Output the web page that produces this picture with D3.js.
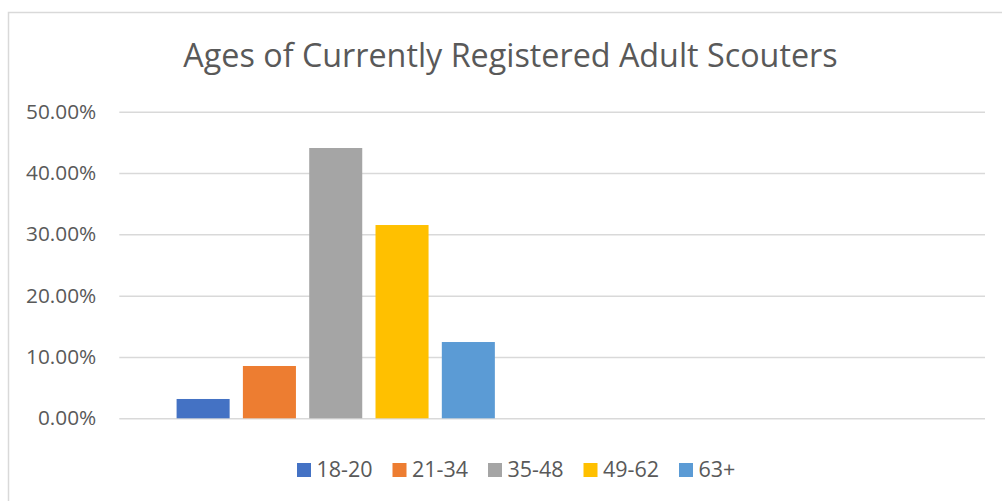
<!DOCTYPE html>
<html>
<head>
<meta charset="utf-8">
<script src="https://cdn.jsdelivr.net/npm/d3@7"></script>
<style>
  body { margin: 0; background: #fff; }
  svg { display: block; font-family: "Open Sans", "Noto Sans", sans-serif; }
</style>
</head>
<body>
<svg id="chart"></svg>
<script>
const title = "Ages of Currently Registered Adult Scouters";
// one real category plus an empty slot, as in the source workbook
const categories = ["Adult Scouters", ""];
const series = ["18-20", "21-34", "35-48", "49-62", "63+"];
const values = [0.0315, 0.0853, 0.4408, 0.3152, 0.1244];
const colors = ["#4472c4", "#ed7d31", "#a5a5a5", "#ffc000", "#5b9bd5"];
const yTicks = [0, 0.1, 0.2, 0.3, 0.4, 0.5];

const width = 1002, height = 501;
const margin = { top: 111.7, right: 17, bottom: 82.7, left: 119.3 };

const svg = d3.select("#chart").attr("width", width).attr("height", height);

// chart frame
svg.append("rect")
  .attr("x", 8.5).attr("y", 12.5)
  .attr("width", width + 20).attr("height", height + 20)
  .attr("fill", "#fff").attr("stroke", "#d9d9d9").attr("stroke-width", 1.5);

svg.append("text")
  .attr("x", 510.5).attr("y", 67)
  .attr("text-anchor", "middle")
  .attr("fill", "#595959")
  .attr("font-size", 32.3)
  .text(title);

const x = d3.scaleBand()
  .domain(categories)
  .range([margin.left, width - margin.right])
  .padding(0);

const xs = d3.scaleBand()
  .domain(series)
  .range([0, x.bandwidth()])
  .paddingInner(0.2)
  .paddingOuter(0.864);

const y = d3.scaleLinear()
  .domain([0, 0.5])
  .range([height - margin.bottom, margin.top]);

const yAxis = d3.axisLeft(y)
  .tickValues(yTicks)
  .tickFormat(d3.format(".2%"))
  .tickSize(-(width - margin.left - margin.right))
  .tickPadding(23);

const gy = svg.append("g")
  .attr("transform", `translate(${margin.left},0)`)
  .call(yAxis);
gy.select(".domain").remove();
gy.selectAll(".tick line").attr("stroke", "#d9d9d9").attr("stroke-width", 1.5);
gy.selectAll(".tick text")
  .attr("fill", "#595959")
  .attr("font-size", 20.8)
  .attr("font-family", "\"Open Sans\", sans-serif");

svg.append("g")
  .selectAll("rect")
  .data(series)
  .join("rect")
  .attr("x", s => x(categories[0]) + xs(s))
  .attr("width", xs.bandwidth())
  .attr("y", (s, i) => y(values[i]))
  .attr("height", (s, i) => y(0) - y(values[i]))
  .attr("fill", (s, i) => colors[i]);

// legend
const legend = svg.append("g").attr("transform", "translate(297,463)");
const item = legend.selectAll("g")
  .data(series)
  .join("g")
  .attr("transform", (s, i) => `translate(${i * 95.5},0)`);
item.append("rect")
  .attr("width", 14).attr("height", 14)
  .attr("fill", (s, i) => colors[i]);
item.append("text")
  .attr("x", 19.5).attr("y", 14)
  .attr("fill", "#595959")
  .attr("font-size", 21.5)
  .text(s => s);
</script>
</body>
</html>
